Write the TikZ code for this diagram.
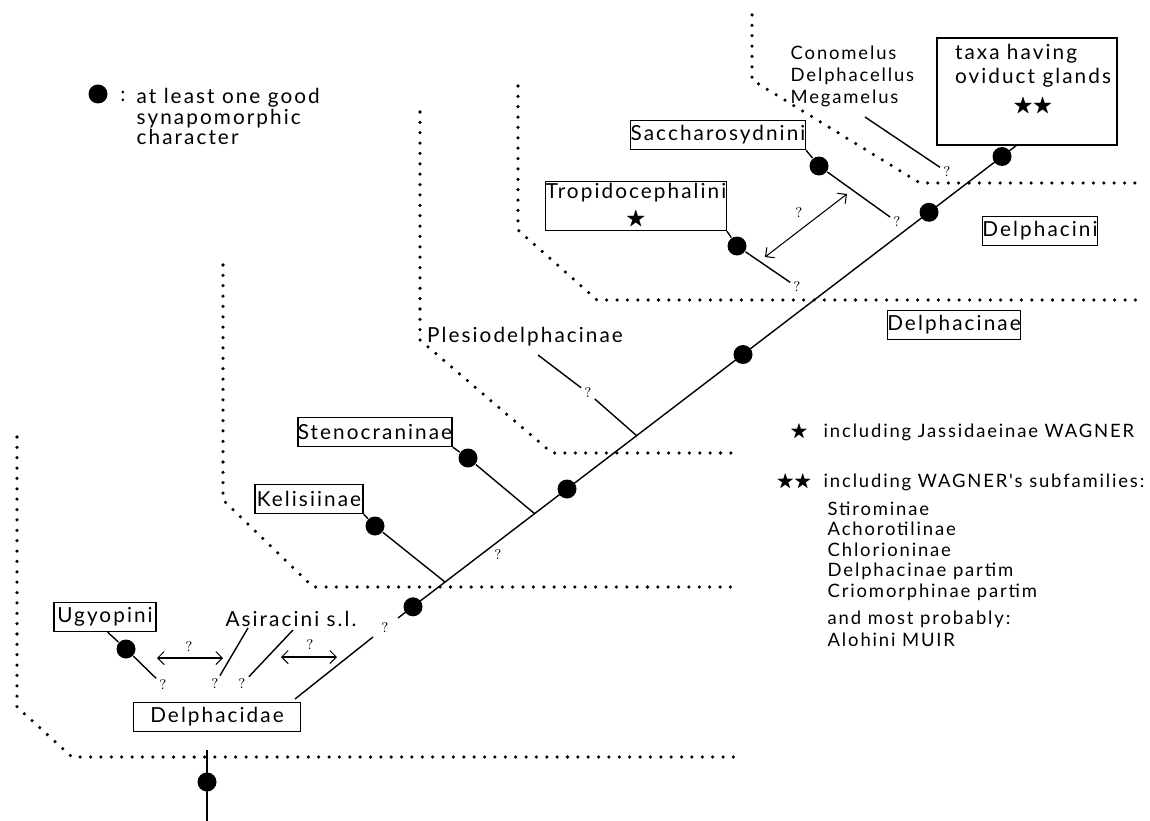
\documentclass[tikz,border=0pt]{standalone}
\usepackage{fontspec}
\usepackage{amssymb}
\usetikzlibrary{arrows.meta, positioning}
\newfontfamily\labelfont{Lato}[LetterSpace=10]
\newcommand\lblsize{\fontsize{11.8}{14}\selectfont}
\newcommand\keysize{\fontsize{10.5}{11.7}\selectfont}

\begin{document}
\begin{tikzpicture}[
    x=0.2mm, y=-0.2mm,
    line width=0.8pt,
    taxon/.style = {
        draw,
        font=\labelfont\lblsize,
        minimum width=#1*0.2mm,
        minimum height=5.8mm,
        inner sep=0pt
    },
    plain/.style = {
        font=\labelfont\lblsize,
        inner sep=0pt
    },
    keytext/.style = {
        font=\labelfont\keysize,
        inner sep=0pt
    },
    syn/.style = {
        circle,
        fill,
        inner sep=0pt,
        minimum size=3.8mm
    },
    qm/.style = {
        font=\footnotesize,
        inner sep=1.5pt
    },
    border/.style = {
        line width=2pt,
        line cap=round,
        dash pattern=on 0pt off 5.9pt
    },
    myarrow/.style = {
        {Straight Barb[length=1.3mm]}-{Straight Barb[length=1.3mm]},
        line width=0.6pt
    }
]
  \useasboundingbox (0,0) rectangle (1150,821);

  % dotted borders of the groups
  \draw[border] (17,437) -- (17,707) -- (72,757) -- (735,757);
  \draw[border] (223,265) -- (223,500) -- (313,587) -- (735,587);
  \draw[border] (420,112) -- (420,340) -- (552,453) -- (738,453);
  \draw[border] (518,86) -- (518,230) -- (597,300) -- (1140,300);
  \draw[border] (752,15) -- (752,80) -- (920,183) -- (1140,183);

  % legend
  \node[syn] (key) at (98,94) {};
  \node[plain] (colon) at (123,96) {:};
  \node[plain, font=\labelfont\fontsize{11.8}{11.6}\selectfont, align=left, anchor=north west] (keylabel) at (136,88) {at least one good\\synapomorphic\\character};

  \node[keytext] (onestar) at (799,432) {$\bigstar$};
  \node[keytext, anchor=west] (note1) at (823,432) {including Jassidaeinae WAGNER};
  \node[keytext] (twostar) at (794,482) {$\bigstar\bigstar$};
  \node[keytext, anchor=west] (note2) at (823,482) {including WAGNER's subfamilies:};
  \node[keytext, align=left, anchor=north west] (subfam) at (827,501) {Stirominae\\Achorotilinae\\Chlorioninae\\Delphacinae partim\\Criomorphinae partim};
  \node[keytext, align=left, anchor=north west] (alohini) at (827,610) {and most probably:\\[1pt]Alohini MUIR};

  % taxa
  \node[taxon=167] (delphacidae) at (217,717) {Delphacidae};
  \node[taxon=102] (ugyopini) at (105,617) {Ugyopini};
  \node[plain] (asiracini) at (291,619) {Asiracini s.l.};
  \node[taxon=108] (kelisiinae) at (309,499) {Kelisiinae};
  \node[taxon=153] (stenocraninae) at (375,432) {Stenocraninae};
  \node[plain] (plesio) at (525,337) {Plesiodelphacinae};
  \node[taxon=133] (delphacinae) at (954,325) {Delphacinae};
  \node[taxon=115] (delphacini) at (1040,231) {Delphacini};
  \node[taxon=167] (sacch) at (718,135) {Saccharosydnini};
  \node[taxon=165, minimum height=9.8mm, align=center] (tropido) at (636,206) {Tropidocephalini\\[1pt]$\bigstar$};
  \node[keytext, align=left, anchor=north west] (conomelus) at (790,45) {Conomelus\\[1pt]Delphacellus\\[1pt]Megamelus};
  \node[taxon=180, minimum height=21.4mm] (oviduct) at (1027,91.5) {};
  \node[plain, below right=0.8mm and 3.6mm of oviduct.north west] (ovilabel) {\begin{tabular}{@{}l@{}}taxa having\\oviduct glands\\[2pt]\multicolumn{1}{@{}c@{}}{$\bigstar\bigstar$}\end{tabular}};

  % points on the main stem
  \coordinate (trunkbase) at (295,699);
  \coordinate (gapa) at (373,637);
  \coordinate (gapb) at (398,618);
  \coordinate (kelj) at (445,582);
  \coordinate (stenj) at (535,514);
  \coordinate (plesj) at (637,436);
  \coordinate (trunktop) at (1017,145);
  \coordinate (rootstart) at (207,750);
  \coordinate (rootend) at (207,821);

  % question marks
  \node[qm] (qug) at (163,685) {?};
  \node[qm] (qarr1) at (189,647) {?};
  \node[qm] (qas1) at (215,684) {?};
  \node[qm] (qas2) at (242,684) {?};
  \node[qm] (qarr2) at (310,645) {?};
  \node[qm] (qtrunk) at (385,628) {?};
  \node[qm] (qkel) at (498,555) {?};
  \node[qm] (qples) at (588,393) {?};
  \node[qm] (qtro) at (797,287) {?};
  \node[qm] (qarr3) at (799,213) {?};
  \node[qm] (qsac) at (897,222) {?};
  \node[qm] (qcon) at (947,172) {?};

  % synapomorphies
  \node[syn] (root) at (207,782) {};
  \node[syn] (ugdot) at (126,649) {};
  \node[syn] (s1) at (413,606.8) {};
  \node[syn] (keldot) at (375,526) {};
  \node[syn] (stendot) at (468,458) {};
  \node[syn] (s2) at (567,489) {};
  \node[syn] (s3) at (743,354.5) {};
  \node[syn] (trodot) at (737,246) {};
  \node[syn] (sacdot) at (819,166) {};
  \node[syn] (s4) at (929,212.3) {};
  \node[syn] (s5) at (1002,156.5) {};

  % stem and branches
  \draw (rootstart) -- (rootend);
  \draw (trunkbase) -- (gapa);
  \draw (gapb) -- (trunktop);
  \draw (ugyopini.-80) -- (ugdot) -- (qug);
  \draw (248,628) -- (qas1);
  \draw (293,630) -- (qas2);
  \draw (kelisiinae.south east) -- (keldot) -- (kelj);
  \draw (stenocraninae.south east) -- (stendot) -- (stenj);
  \draw (538,355) -- (qples) -- (plesj);
  \draw (tropido.south east) -- (trodot) -- (qtro);
  \draw (sacch.south east) -- (sacdot) -- (qsac);
  \draw (865,117) -- (qcon);

  % uncertain sister groups
  \draw[myarrow] (157,658) -- (223,658);
  \draw[myarrow] (281,657) -- (337,657);
  \draw[myarrow] (765,257) -- (847,194);
\end{tikzpicture}
\end{document}
